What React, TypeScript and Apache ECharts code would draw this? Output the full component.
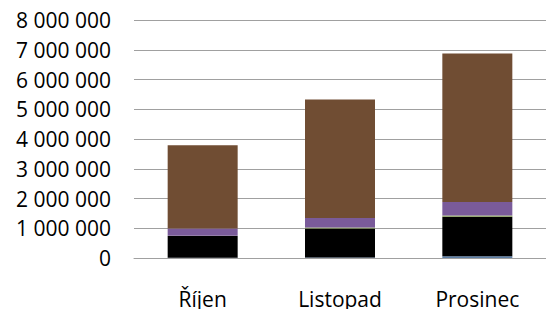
import React, { useEffect, useRef } from "react";
import * as echarts from "echarts";

const categories = ["Říjen", "Listopad", "Prosinec"];
const seriesNames = ["A", "B", "C", "D", "E"];
const bottomValues = [10000, 15000, 60000];
const blackValues = [730000, 980000, 1330000];
const greenValues = [5000, 30000, 35000];
const purpleValues = [245000, 320000, 460000];
const brownValues = [2800000, 3980000, 4990000];
const colors = ["#5E7FA6", "#000000", "#8AA35A", "#7A5B9A", "#704D33"];

const fmt = (v: number) => String(v).replace(/\B(?=(\d{3})+(?!\d))/g, " ");

export default function App() {
  const ref = useRef<HTMLDivElement>(null);
  useEffect(() => {
    if (!ref.current) return;
    const chart = echarts.init(ref.current, undefined, { renderer: "svg" });
    const all = [bottomValues, blackValues, greenValues, purpleValues, brownValues];
    chart.setOption({
      animation: false,
      grid: { left: 134, top: 20, width: 423, bottom: 41, containLabel: false },
      xAxis: {
        type: "category",
        data: categories,
        axisTick: { show: false },
        axisLine: { show: true, lineStyle: { color: "#A0A0A0", width: 1 } },
        axisLabel: { color: "#000", fontSize: 21, fontFamily: "Open Sans", margin: 30 },
      },
      yAxis: {
        type: "value",
        min: 0,
        max: 8000000,
        interval: 1000000,
        axisLine: { show: false },
        axisTick: { show: false },
        splitLine: { lineStyle: { color: "#A0A0A0", width: 1 } },
        axisLabel: {
          color: "#000",
          fontSize: 21,
          fontFamily: "Open Sans",
          margin: 23,
          formatter: (v: number) => fmt(v),
        },
      },
      series: all.map((d, i) => ({
        name: seriesNames[i],
        type: "bar",
        stack: "total",
        barWidth: 70,
        data: d,
        itemStyle: { color: colors[i] },
      })),
    });
    return () => chart.dispose();
  }, []);
  return <div ref={ref} style={{ width: 546, height: 309, position: "absolute", left: 0, top: 0 }} />;
}
